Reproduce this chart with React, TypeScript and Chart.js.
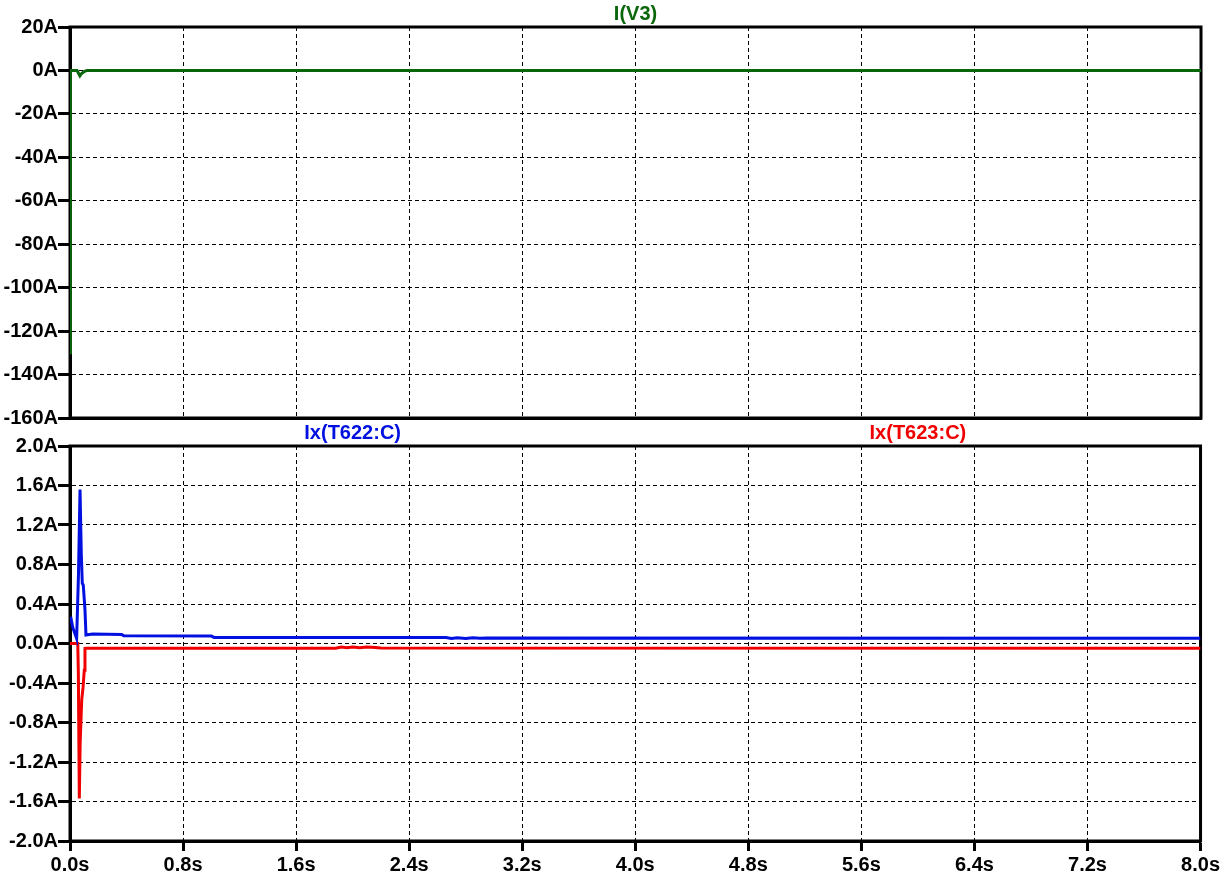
import { useEffect, useRef } from "react"
import Chart from "chart.js/auto"

// axis ticks
const timeTicks = [0, 0.8, 1.6, 2.4, 3.2, 4.0, 4.8, 5.6, 6.4, 7.2, 8.0]
const topTicks = [-160, -140, -120, -100, -80, -60, -40, -20, 0, 20]
const bottomTicks = [-2.0, -1.6, -1.2, -0.8, -0.4, 0.0, 0.4, 0.8, 1.2, 1.6, 2.0]

// I(V3)
const v3Label = "I(V3)"
const v3Time = [0, 0.003, 0.05, 0.062, 0.07, 0.08, 0.1, 0.12, 8.0]
const v3Current = [-130, 0, 0, -1.5, -2.5, -1.5, -0.5, 0, 0]

// Ix(T622:C)
const t622Label = "Ix(T622:C)"
const t622Time = [0, 0.005, 0.02, 0.047, 0.06, 0.071, 0.08, 0.087, 0.094, 0.106, 0.113, 0.16, 0.366, 0.38, 1.0, 1.02, 2.66, 2.7, 2.74, 2.8, 2.85, 2.9, 2.95, 8.0]
const t622Current = [0.25, 0.27, 0.16, 0.05, 0.7, 1.56, 0.9, 0.61, 0.59, 0.34, 0.085, 0.095, 0.092, 0.078, 0.075, 0.062, 0.06, 0.05, 0.058, 0.05, 0.058, 0.052, 0.055, 0.053]

// Ix(T623:C)
const t623Label = "Ix(T623:C)"
const t623Time = [0, 0.055, 0.059, 0.066, 0.072, 0.083, 0.092, 0.101, 0.106, 0.12, 1.88, 1.92, 1.96, 2.0, 2.05, 2.1, 2.16, 2.2, 8.0]
const t623Current = [0.0, 0.0, -0.3, -1.57, -1.0, -0.57, -0.45, -0.27, -0.05, -0.048, -0.048, -0.036, -0.042, -0.036, -0.044, -0.036, -0.04, -0.046, -0.047]

const FONT = "'Liberation Sans', Arial, sans-serif"
const GREEN = "#0a660a"
const BLUE = "#0010e0"
const RED = "#f00000"

const toPoints = (xs: number[], ys: number[]) => xs.map((x, i) => ({ x, y: ys[i] }))

// thick frame around the plot area, drawn under the traces
const framePlugin = {
  id: "frame",
  beforeDatasetsDraw(chart: any) {
    const { ctx, chartArea: a } = chart
    ctx.save()
    ctx.lineWidth = 3
    ctx.strokeStyle = "#000"
    ctx.strokeRect(a.left, a.top, a.right - a.left, a.bottom - a.top)
    ctx.restore()
  },
}

// trace names above the plot, spread evenly
const traceLabelPlugin = {
  id: "traceLabels",
  afterDraw(chart: any) {
    const { ctx, chartArea: a } = chart
    const sets = chart.data.datasets
    ctx.save()
    ctx.font = `bold 20px ${FONT}`
    ctx.textAlign = "center"
    ctx.textBaseline = "middle"
    sets.forEach((ds: any, i: number) => {
      const x = a.left + ((a.right - a.left) * (2 * i + 1)) / (2 * sets.length)
      ctx.fillStyle = ds.borderColor
      ctx.fillText(ds.label, x, a.top - 13)
    })
    ctx.restore()
  },
}

function yAxis(ticks: number[], fmt: (v: number) => string) {
  return {
    type: "linear" as const,
    min: ticks[0],
    max: ticks[ticks.length - 1],
    afterBuildTicks: (s: any) => {
      s.ticks = ticks.map((value) => ({ value }))
    },
    afterFit: (s: any) => {
      s.width = 70
    },
    ticks: {
      callback: (v: any) => fmt(Number(v)),
      color: "#000",
      padding: 0,
      font: { family: FONT, size: 20, weight: "bold" as const },
    },
    grid: { color: "#000", lineWidth: 1, tickLength: 12, tickWidth: 3, tickColor: "#000" },
    border: { display: true, color: "#000", width: 3, dash: [4, 3] },
  }
}

function xAxis(showLabels: boolean, height: number) {
  return {
    type: "linear" as const,
    min: 0,
    max: 8,
    afterBuildTicks: (s: any) => {
      s.ticks = timeTicks.map((value) => ({ value }))
    },
    afterFit: (s: any) => {
      s.height = height
    },
    ticks: {
      display: showLabels,
      maxRotation: 0,
      autoSkip: false,
      callback: (v: any) => `${Number(v).toFixed(1)}s`,
      color: "#000",
      padding: 2,
      font: { family: FONT, size: 20, weight: "bold" as const },
    },
    grid: { color: "#000", lineWidth: 1, drawTicks: showLabels, tickLength: 10, tickWidth: 3, tickColor: "#000" },
    border: { display: true, color: "#000", width: 3, dash: [4, 3] },
  }
}

function Pane({ height, top, datasets, yTicks, fmt, showX, xHeight, padding }: any) {
  const canvasRef = useRef<HTMLCanvasElement>(null)

  useEffect(() => {
    if (!canvasRef.current) return
    const chart = new Chart(canvasRef.current, {
      type: "line",
      data: { datasets },
      options: {
        animation: false,
        responsive: true,
        maintainAspectRatio: false,
        parsing: false,
        layout: { padding },
        elements: { point: { radius: 0 }, line: { borderWidth: 3, tension: 0 } },
        plugins: { legend: { display: false }, tooltip: { enabled: false } },
        scales: { x: xAxis(showX, xHeight), y: yAxis(yTicks, fmt) },
      },
      plugins: [framePlugin, traceLabelPlugin],
    })
    return () => chart.destroy()
  }, [])

  return (
    <div style={{ position: "absolute", left: 0, top, width: 1222, height }}>
      <canvas ref={canvasRef} />
    </div>
  )
}

export default function App() {
  const topSets = [
    { label: v3Label, data: toPoints(v3Time, v3Current), borderColor: GREEN, fill: false },
  ]
  const bottomSets = [
    { label: t622Label, data: toPoints(t622Time, t622Current), borderColor: BLUE, fill: false },
    { label: t623Label, data: toPoints(t623Time, t623Current), borderColor: RED, fill: false },
  ]

  return (
    <div style={{ position: "absolute", left: 0, top: 0, width: 1222, height: 878, background: "#fff" }}>
      <Pane
        height={430}
        top={0}
        datasets={topSets}
        yTicks={topTicks}
        fmt={(v: number) => `${Math.round(v)}A`}
        showX={false}
        xHeight={0}
        padding={{ top: 27, right: 21, bottom: 3, left: 0 }}
      />
      <Pane
        height={458}
        top={420}
        datasets={bottomSets}
        yTicks={bottomTicks}
        fmt={(v: number) => `${v.toFixed(1)}A`}
        showX={true}
        xHeight={37}
        padding={{ top: 26, right: 21, bottom: 0, left: 0 }}
      />
    </div>
  )
}
